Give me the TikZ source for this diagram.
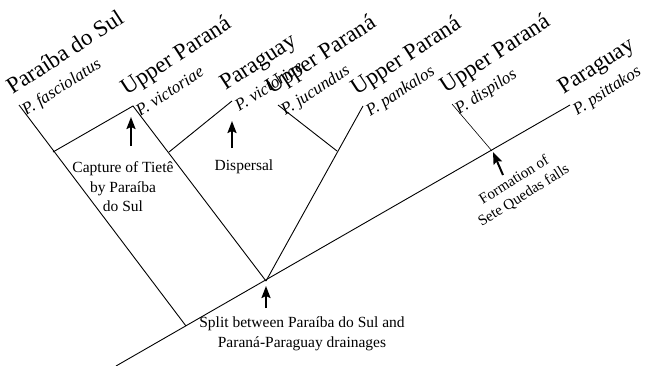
\documentclass[tikz,border=0pt]{standalone}
\usepackage{fontspec}
\setmainfont{Liberation Serif}
\usetikzlibrary{arrows.meta,calc}
\tikzset{
  region/.style={font=\fontsize{23}{26}\selectfont, rotate=33, anchor=base west, inner sep=0pt},
  species/.style={font=\fontsize{17}{19}\selectfont\itshape, rotate=33, anchor=base west, inner sep=0pt},
  branch/.style={line width=0.9pt},
  thin branch/.style={line width=0.6pt},
  evt/.style={-{Stealth[length=12pt,width=9pt,inset=2pt]}, line width=2pt},
  note/.style={font=\fontsize{15.5}{19.5}\selectfont, align=center, inner sep=0pt}
}
\newcommand{\tiplabel}[4]{%
  \node[species] (s#1) at ($(#2)+(7.1,10.9)$) {#4};
  \node[region] (r#1) at ($(#2)+(-6.5,-10.1)$) {#3};
}
\begin{document}
\begin{tikzpicture}[x=1pt,y=-1pt]
\useasboundingbox (0,0) rectangle (646,365);
% coordinates
\coordinate (root) at (116,366);
\coordinate (tipPsi) at (570,105);
\coordinate (nPS) at (186,326);
\coordinate (nSplit) at (266,281);
\coordinate (nSete) at (492,151);
\coordinate (tipPar) at (19,105);
\coordinate (jPar) at (53,152);
\coordinate (tipUPv) at (133,106);
\coordinate (jPgv) at (169,152);
\coordinate (tipPgv) at (232,101);
\coordinate (tipJuc) at (278,105);
\coordinate (jJuc) at (337,151);
\coordinate (tipPan) at (363,106);
\coordinate (tipDis) at (452,104);
% branches
\draw[branch] (root) -- (tipPsi);
\draw[branch] (nPS) -- (tipPar);
\draw[branch] (jPar) -- (tipUPv) -- (nSplit);
\draw[branch] (jPgv) -- (tipPgv);
\draw[branch] (nSplit) -- (tipPan);
\draw[branch] (jJuc) -- (tipJuc);
\draw[thin branch] (nSete) -- (tipDis);
% tip labels
\tiplabel{Par}{tipPar}{Paraíba do Sul}{P. fasciolatus}
\tiplabel{UPv}{tipUPv}{Upper Paraná}{P. victoriae}
\tiplabel{Pgv}{tipPgv}{Paraguay}{P. victoriae}
\tiplabel{Juc}{tipJuc}{Upper Paraná}{P. jucundus}
\tiplabel{Pan}{tipPan}{Upper Paraná}{P. pankalos}
\tiplabel{Dis}{tipDis}{Upper Paraná}{P. dispilos}
\tiplabel{Psi}{tipPsi}{Paraguay}{P. psittakos}
% event arrows
\coordinate (a1s) at (131,146); \coordinate (a1e) at (131,117);
\coordinate (a2s) at (232,148); \coordinate (a2e) at (232,121);
\coordinate (a3s) at (266,308); \coordinate (a3e) at (266,286);
\coordinate (a4s) at (503,175); \coordinate (a4e) at (493,152);
\draw[evt] (a1s) -- (a1e);
\draw[evt] (a2s) -- (a2e);
\draw[evt] (a3s) -- (a3e);
\draw[evt] (a4s) -- (a4e);
% notes
\node[note] (capture) at (123,187) {Capture of Tietê\\by Paraíba\\do Sul};
\node[note] (dispersal) at (244,167) {Dispersal};
\node[note] (split) at (302,334) {Split between Paraíba do Sul and\\Paraná-Paraguay drainages};
\node[note, rotate=32, font=\fontsize{15}{18}\selectfont] (sete) at (519,188) {Formation of\\Sete Quedas falls};
\end{tikzpicture}
\end{document}
